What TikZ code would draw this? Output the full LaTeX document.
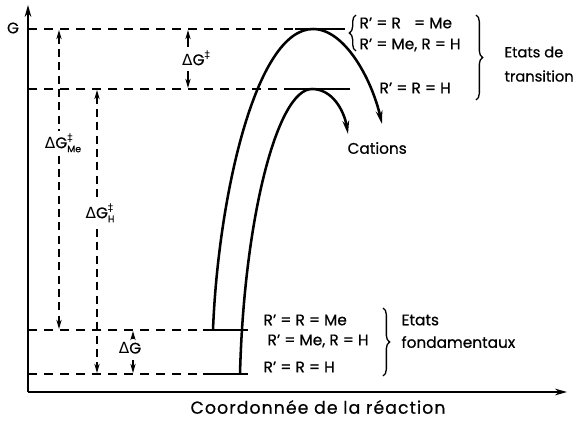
\documentclass[tikz,border=0pt]{standalone}
\usepackage{fontspec}
\setmainfont{Poppins}[FakeBold=0.6]
\newfontfamily\dv{DejaVu Sans}
\usetikzlibrary{arrows.meta,decorations.pathreplacing}
\begin{document}
\begin{tikzpicture}[x=0.75pt,y=-0.75pt,
  axis/.style={line width=1.3pt,-{Stealth[length=9pt,width=5pt]}},
  lvl/.style={line width=0.9pt,dash pattern=on 7pt off 5pt},
  bar/.style={line width=1.1pt},
  curve/.style={line width=1.9pt,-{Stealth[length=10pt,width=5pt]}},
  dimd/.style={line width=0.9pt,dash pattern=on 6pt off 4pt,{Stealth[length=7pt,width=4pt]}-{Stealth[length=7pt,width=4pt]}},
  dims/.style={line width=0.9pt,-{Stealth[length=7pt,width=4pt]}},
  brc/.style={line width=1pt,decorate,decoration={brace,amplitude=5pt}},
  lab/.style={font=\fontsize{11.5}{14}\selectfont,inner sep=1pt},
  wlab/.style={lab,fill=white,inner sep=2pt}
]
\useasboundingbox (0,0) rectangle (576,421);
% axes
\coordinate (O) at (28,392);
\coordinate (Ytop) at (28,5);
\coordinate (Xend) at (567,392);
\draw[axis] (O) -- (Ytop);
\draw[axis] (O) -- (Xend);
\node[lab] (G) at (13,28) {G};
\node[font=\fontsize{13}{15}\selectfont\addfontfeatures{LetterSpace=6}] (xl) at (318,407) {Coordonnée de la réaction};
% levels
\coordinate (T1a) at (28,29); \coordinate (T1b) at (295,29); \coordinate (T1c) at (345,29);
\coordinate (T2a) at (28,89); \coordinate (T2b) at (286,89); \coordinate (T2c) at (350,89);
\coordinate (F1a) at (28,330); \coordinate (F1b) at (203,330); \coordinate (F1c) at (248,330);
\coordinate (F2a) at (28,374); \coordinate (F2b) at (203,374); \coordinate (F2c) at (248,374);
\draw[lvl] (T1a) -- (T1b); \draw[bar] (T1b) -- (T1c);
\draw[lvl] (T2a) -- (T2b); \draw[bar] (T2b) -- (T2c);
\draw[lvl] (F1a) -- (F1b); \draw[bar] (F1b) -- (F1c);
\draw[lvl] (F2a) -- (F2b); \draw[bar] (F2b) -- (F2c);
% curves
\coordinate (S1) at (213,330); \coordinate (P1) at (313,29); \coordinate (E1) at (382,124);
\coordinate (S2) at (240,374); \coordinate (P2) at (312,89); \coordinate (E2) at (348,134);
\draw[curve] (S1) .. controls (218,200) and (255,29) .. (P1) .. controls (345,29) and (372,80) .. (E1);
\draw[curve] (S2) .. controls (244,220) and (277,89) .. (P2) .. controls (332,89) and (344,110) .. (E2);
% dimensions
\coordinate (m1) at (59,30); \coordinate (m2) at (59,329);
\draw[dimd] (m1) -- (m2);
\node[wlab] (dMe) at (63,143) {{\dv Δ}G\rlap{\raisebox{5pt}{\fontsize{8}{8}\selectfont\dv ‡}}\raisebox{-3pt}{\fontsize{7}{8}\selectfont Me}};
\coordinate (h1) at (97,90); \coordinate (h2) at (97,373);
\draw[dimd] (h1) -- (h2);
\node[wlab] (dH) at (100,213) {{\dv Δ}G\rlap{\raisebox{5pt}{\fontsize{8}{8}\selectfont\dv ‡}}\raisebox{-3pt}{\fontsize{7}{8}\selectfont H}};
\coordinate (a1) at (188,47); \coordinate (a2) at (188,30);
\coordinate (a3) at (188,71); \coordinate (a4) at (188,88);
\draw[dims] (a1) -- (a2); \draw[dims] (a3) -- (a4);
\node[lab] (dT) at (196,58) {{\dv Δ}G\raisebox{5pt}{\fontsize{8}{8}\selectfont\dv ‡}};
\coordinate (b1) at (133,339); \coordinate (b2) at (133,331);
\coordinate (b3) at (133,360); \coordinate (b4) at (133,373);
\draw[dims] (b1) -- (b2); \draw[dims] (b3) -- (b4);
\node[lab] (dG) at (130,348) {{\dv Δ}G};
% transition state labels
\draw[brc] (356,51) -- (356,15);
\node[lab,anchor=west] (t1) at (358,23) {R’ = R \,\, = Me};
\node[lab,anchor=west] (t2) at (358,45) {R’ = Me, R = H};
\node[lab,anchor=west] (t3) at (378,88) {R’ = R = H};
\draw[brc] (476,15) -- (476,100);
\node[lab,anchor=west,font=\fontsize{11}{13}\selectfont] (ets1) at (503,52) {Etats de};
\node[lab,anchor=west,font=\fontsize{11}{13}\selectfont] (ets2) at (503,76) {transition};
\node[lab,anchor=west] (cat) at (346,148) {Cations};
% ground state labels
\node[lab,anchor=west] (g1) at (262,320) {R’ = R = Me};
\node[lab,anchor=west] (g2) at (266,341) {R’ = Me, R = H};
\node[lab,anchor=west] (g3) at (262,367) {R’ = R = H};
\draw[brc] (383,308) -- (383,376);
\node[lab,anchor=west] (efd1) at (400,320) {Etats};
\node[lab,anchor=west] (efd2) at (400,342) {fondamentaux};
\end{tikzpicture}
\end{document}
